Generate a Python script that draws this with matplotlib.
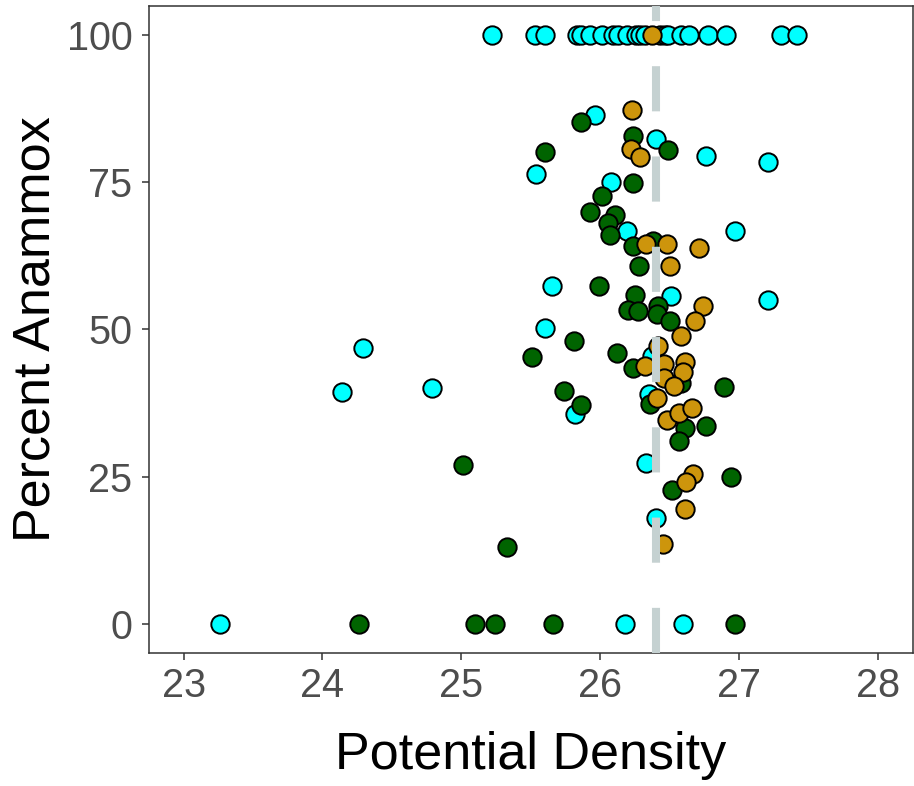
import matplotlib
matplotlib.use("Agg")
import matplotlib.pyplot as plt

plt.rcParams['font.family'] = ['Liberation Sans', 'DejaVu Sans']
plt.rcParams['lines.scale_dashes'] = False

# Potential density vs percent anammox, by sample group
cyan_x = [25.22, 25.53, 25.60, 25.83, 25.86, 25.93, 26.01, 26.09, 26.13, 26.19, 26.26,
          26.29, 26.32, 26.43, 26.47, 26.49, 26.58, 26.64, 26.78, 26.91, 27.30, 27.42,
          23.26, 26.18, 26.60,
          25.60, 24.29, 24.14, 24.79, 25.82, 25.96, 26.40, 26.76, 27.21, 25.54, 26.08,
          26.19, 26.97, 25.65, 26.51, 27.21, 26.37, 26.35, 26.33, 26.40]
cyan_y = [100] * 22 + [0, 0, 0] + \
         [50.2, 46.8, 39.4, 40.0, 35.7, 86.4, 82.3, 79.4, 78.4, 76.4, 75.1,
          66.8, 66.7, 57.4, 55.7, 55.0, 45.5, 39.0, 27.4, 18.0]

green_x = [24.26, 25.10, 25.24, 25.66, 26.97,
           25.81, 25.51, 25.74, 25.86, 25.01, 25.33, 25.86, 26.24, 26.49, 25.60,
           26.24, 26.01, 25.93, 26.11, 26.06, 26.07, 26.24, 26.38, 26.28, 25.99,
           26.25, 26.20, 26.27, 26.42, 26.41, 26.50, 26.12, 26.24, 26.58, 26.89,
           26.36, 26.61, 26.76, 26.57, 26.94, 26.52]
green_y = [0, 0, 0, 0, 0,
           48.0, 45.4, 39.6, 37.2, 27.0, 13.0, 85.3, 82.8, 80.5, 80.1,
           74.8, 72.6, 69.9, 69.4, 68.0, 66.1, 64.1, 65.1, 60.7, 57.4,
           55.8, 53.3, 53.2, 54.0, 52.6, 51.5, 46.0, 43.4, 41.0, 40.3,
           37.4, 33.2, 33.6, 31.0, 25.0, 22.8]

orange_x = [26.37, 26.23, 26.22, 26.29, 26.33, 26.48, 26.71, 26.50, 26.74, 26.68,
            26.58, 26.42, 26.32, 26.46, 26.61, 26.46, 26.60, 26.53, 26.41, 26.48,
            26.57, 26.66, 26.67, 26.62, 26.61, 26.45]
orange_y = [100, 87.3, 80.7, 79.3, 64.5, 64.5, 63.8, 60.8, 54.0, 51.5,
            48.9, 47.2, 43.8, 44.1, 44.4, 41.8, 42.7, 40.4, 38.4, 34.7,
            35.8, 36.6, 25.5, 24.1, 19.6, 13.6]

threshold = 26.4
x_ticks = [23, 24, 25, 26, 27, 28]
y_ticks = [0, 25, 50, 75, 100]

fig = plt.figure(figsize=(9.14, 7.86), dpi=100)
ax = fig.add_axes([0.1629, 0.1686, 0.8355, 0.8244])

marker_kw = dict(s=175, edgecolors='black', linewidths=1.4, zorder=3)
ax.scatter(cyan_x, cyan_y, c='#00FFFF', **marker_kw)
ax.scatter(green_x, green_y, c='#006400', **marker_kw)
ax.scatter(orange_x, orange_y, c='#CD950C', **marker_kw)

ax.axvline(threshold, color='#C5D1D1', linewidth=5.8, zorder=4,
           linestyle=(0, (32.5, 32.5)), dash_capstyle='butt')

ax.set_xlim(22.75, 28.25)
ax.set_ylim(-5, 105)
ax.set_xticks(x_ticks)
ax.set_yticks(y_ticks)
ax.set_xticklabels([str(v) for v in x_ticks])
ax.set_yticklabels([str(v) for v in y_ticks])

for s in ax.spines.values():
    s.set_color('#333333')
    s.set_linewidth(1.1)
ax.tick_params(axis='both', colors='#333333', width=1.1, length=4.8,
               labelsize=28.5, labelcolor='#4D4D4D')
ax.tick_params(axis='x', pad=5)
ax.tick_params(axis='y', pad=7)

ax.set_xlabel('Potential Density', fontsize=37.5, color='black', labelpad=19)
ax.set_ylabel('Percent Anammox', fontsize=37.5, color='black', labelpad=4.5)

fig.savefig('out.png', dpi=100)
